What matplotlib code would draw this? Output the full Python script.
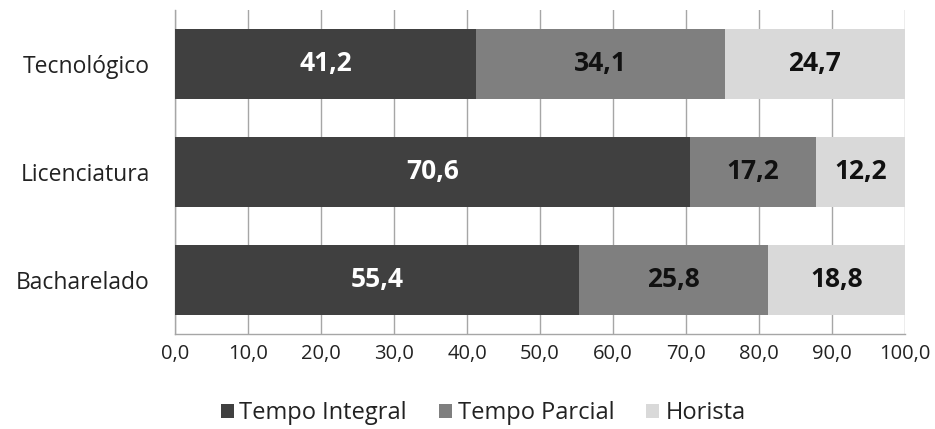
import matplotlib
matplotlib.use("Agg")
import matplotlib.pyplot as plt
from matplotlib.ticker import FuncFormatter
from matplotlib.patches import Patch

plt.rcParams['font.family'] = ['Open Sans', 'DejaVu Sans']

categories = ["Bacharelado", "Licenciatura", "Tecnológico"]
series_names = ["Tempo Integral", "Tempo Parcial", "Horista"]
tempo_integral = [55.4, 70.6, 41.2]
tempo_parcial = [25.8, 17.2, 34.1]
horista = [18.8, 12.2, 24.7]
colors = ["#404040", "#7f7f7f", "#d9d9d9"]
label_colors = ["white", "#111111", "#111111"]

fig = plt.figure(figsize=(9.35, 4.29), dpi=100)
ax = fig.add_axes([175/935, 1-334/429, 730/935, 324/429])

ys = list(range(len(categories)))
left = [0.0]*len(categories)
for vals, c, lc, name in zip([tempo_integral, tempo_parcial, horista], colors, label_colors, series_names):
    ax.barh(ys, vals, left=left, height=0.64, color=c, edgecolor='none', zorder=3, label=name)
    for y, v, l in zip(ys, vals, left):
        ax.text(l + v/2, y, f"{v:.1f}".replace('.', ','), ha='center', va='center',
                color=lc, fontsize=19, fontweight='bold', zorder=4)
    left = [l + v for l, v in zip(left, vals)]

ax.set_xlim(0, 100)
ax.set_ylim(-0.5, 2.5)
ax.set_xticks(range(0, 101, 10))
ax.xaxis.set_major_formatter(FuncFormatter(lambda x, p: f"{x:.1f}".replace('.', ',')))
ax.set_yticks(ys)
ax.set_yticklabels(categories)
ax.tick_params(axis='x', length=0, labelsize=14.5, colors='#222222', pad=7)
ax.tick_params(axis='y', length=0, labelsize=16.5, colors='#222222', pad=18)
ax.grid(axis='x', color='#a6a6a6', linewidth=1, zorder=0)
for s in ['top', 'right']:
    ax.spines[s].set_visible(False)
for s in ['left', 'bottom']:
    ax.spines[s].set_color('#a6a6a6')
    ax.spines[s].set_linewidth(1)

handles = [Patch(facecolor=c, edgecolor='none', label=n) for c, n in zip(colors, series_names)]
fig.legend(handles=handles, loc='center', bbox_to_anchor=(483/935, 1-413/429), ncol=3,
           frameon=False, fontsize=17, handlelength=0.55, handleheight=0.55,
           handletextpad=0.25, columnspacing=1.35, labelcolor='#222222')

fig.savefig("out.png", dpi=100)
